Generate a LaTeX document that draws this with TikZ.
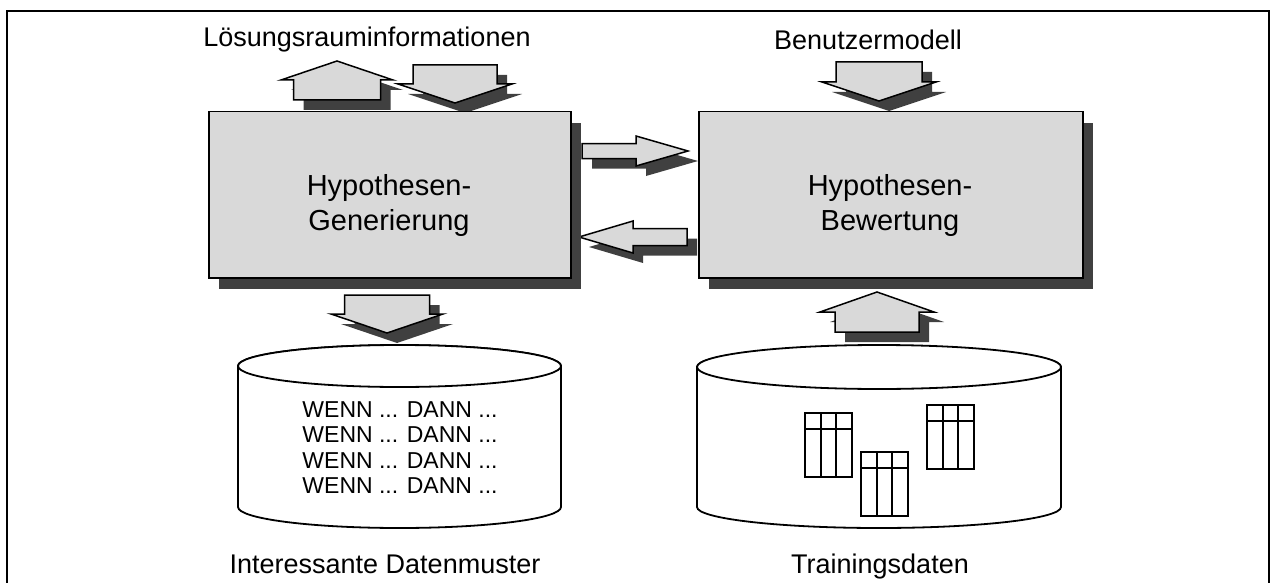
\documentclass[tikz,border=0pt]{standalone}
\usepackage{fontspec}
\setmainfont{Liberation Sans}
\usetikzlibrary{shadows}
\definecolor{panel}{HTML}{D9D9D9}
\definecolor{shade}{HTML}{404040}
\tikzset{
  x=1pt, y=1pt,
  procbox/.style={draw=black, line width=1.5pt, fill=panel, inner sep=0pt,
    anchor=north west,
    drop shadow={shadow xshift=10pt, shadow yshift=-11pt, fill=shade, opacity=1}},
  arrowbody/.style={draw=black, line width=1.5pt, fill=panel, line join=miter},
  arrowshade/.style={fill=shade},
  store/.style={draw=black, line width=1.8pt, fill=white},
  grid/.style={draw=black, line width=2.6pt, line cap=rect},
  caption/.style={font=\fontsize{27}{32}\selectfont, anchor=base, inner sep=0pt},
  boxtext/.style={font=\fontsize{29}{34}\selectfont, anchor=base, inner sep=0pt},
  rule/.style={font=\fontsize{23}{25.5}\selectfont, align=center, inner sep=0pt}
}
% block arrow: tip x, tip y (downwards), direction, head length,
% shaft length, head half-width, shaft half-width
\newcommand\blockarrow[7]{%
  \begin{scope}[shift={(#1+10,-#2-10)}, rotate=#3]
    \path[arrowshade] (0,0) -- (-#4,#6) -- (-#4,#7) -- (-#4-#5,#7)
      -- (-#4-#5,-#7) -- (-#4,-#7) -- (-#4,-#6) -- cycle;
  \end{scope}
  \begin{scope}[shift={(#1,-#2)}, rotate=#3]
    \path[arrowbody] (0,0) -- (-#4,#6) -- (-#4,#7) -- (-#4-#5,#7)
      -- (-#4-#5,-#7) -- (-#4,-#7) -- (-#4,-#6) -- cycle;
  \end{scope}}
% small table: left x, top y (downwards)
\newcommand\datatable[2]{%
  \begin{scope}[shift={(#1,-#2)}]
    \draw[grid] (0,0) rectangle (47,-64);
    \draw[grid] (0,-16) -- (47,-16);
    \draw[grid] (16,0) -- (16,-64);
    \draw[grid] (31,0) -- (31,-64);
  \end{scope}}
\begin{document}
\begin{tikzpicture}
\useasboundingbox (0,0) rectangle (1271,-583);
% frame
\draw[line width=2pt] (7,-583) -- (7,-11) -- (1269,-11) -- (1269,-583);

% arrows around the generator and evaluator
\blockarrow{337}{61}{90}{19}{20}{56}{43.5}
\blockarrow{455}{103}{-90}{19}{19}{57}{42}
\blockarrow{879}{101}{-90}{19}{20}{57}{43}
\blockarrow{688}{151}{0}{52}{54}{15}{7.5}
\blockarrow{579}{237}{180}{54}{54}{16}{8.5}
\blockarrow{387}{333}{-90}{19}{19}{56}{42.5}
\blockarrow{877}{292}{90}{20}{20}{57}{42}

% process boxes
\node[procbox, minimum width=362pt, minimum height=166pt] (gen) at (208,-111) {};
\node[procbox, minimum width=384pt, minimum height=166pt] (eval) at (698,-111) {};
\node[boxtext] (gen1) at (389,-195) {Hypothesen-};
\node[boxtext] (gen2) at (389,-230) {Generierung};
\node[boxtext] (eval1) at (890,-195) {Hypothesen-};
\node[boxtext] (eval2) at (890,-230) {Bewertung};

% data stores
\path[store] (238,-366) -- (238,-507) arc[start angle=180, end angle=360, x radius=161.5, y radius=21]
  -- (561,-366) arc[start angle=0, end angle=180, x radius=161.5, y radius=21] -- cycle;
\draw[store] (399.5,-366) ellipse[x radius=161.5, y radius=21];
\path[store] (697,-367) -- (697,-507) arc[start angle=180, end angle=360, x radius=182, y radius=21]
  -- (1061,-367) arc[start angle=0, end angle=180, x radius=182, y radius=21] -- cycle;
\draw[store] (879,-367) ellipse[x radius=182, y radius=22];

\node[rule, anchor=north] (rules) at (400,-401)
  {WENN ... DANN ...\\WENN ... DANN ...\\WENN ... DANN ...\\WENN ... DANN ...};

\datatable{805}{413}
\datatable{861}{452}
\datatable{927}{405}

% captions
\node[caption] (space) at (367,-47) {Lösungsrauminformationen};
\node[caption] (user) at (868,-50) {Benutzermodell};
\node[caption] (found) at (385,-573) {Interessante Datenmuster};
\node[caption] (train) at (880,-573) {Trainingsdaten};
\end{tikzpicture}
\end{document}
